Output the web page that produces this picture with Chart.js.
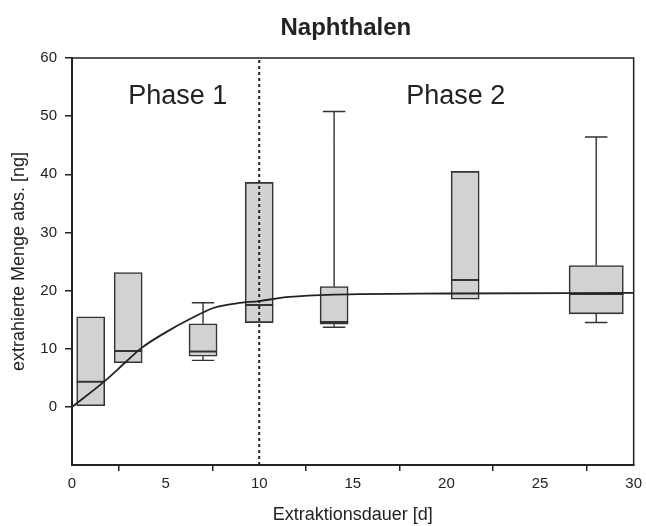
<!DOCTYPE html>
<html>
<head>
<meta charset="utf-8">
<script src="https://cdn.jsdelivr.net/npm/chart.js@4.4.1/dist/chart.umd.min.js"></script>
<style>
html, body { margin: 0; padding: 0; background: #fff; }
#wrap { width: 646px; height: 526px; }
</style>
</head>
<body>
<div id="wrap"><canvas id="naphChart"></canvas></div>
<script>
// Boxen: Extraktionsdauer [d] und Quartile / Median / Whisker [ng]
const days = [1, 3, 7, 10, 14, 21, 28];
const q1 = [0.2, 7.6, 8.7, 14.5, 14.2, 18.5, 16.0];
const q3 = [15.5, 23.1, 14.3, 38.6, 20.7, 40.5, 24.3];
const medians = [4.3, 9.6, 9.5, 17.5, 14.6, 21.8, 19.4];
const whiskerLow = [null, null, 8.0, null, 13.7, null, 14.5];
const whiskerHigh = [null, null, 17.9, null, 50.8, null, 46.4];

// angepasste Kurve
const fitX = [0, 1.7, 2.9, 3.7, 5.05, 6.3, 7.55, 8.8, 10, 11.6, 14, 20, 30];
const fitY = [0, 4.3, 7.8, 10.1, 12.9, 15.1, 17.0, 17.8, 18.2, 18.9, 19.3, 19.5, 19.6];

const phaseBreak = 10;
const phaseLabels = ['Phase 1', 'Phase 2'];
const xTicks = [0, 5, 10, 15, 20, 25, 30];
const yTicks = [0, 10, 20, 30, 40, 50, 60];

// Breiten in Tagen (letzte Box ist breiter gezeichnet)
const BOX_W = 1.5;
const WIDE_W = 2.9;
const CAP_W = 1.2;

const FONT = 'Arial, "Liberation Sans", Helvetica, sans-serif';
const INK = '#222';

function boxWidth(i) {
	return i === days.length - 1 ? WIDE_W : BOX_W;
}

function buildSegments() {
	let med = [];
	let whisk = [];
	days.forEach(function(d, i) {
		let hw = boxWidth(i) / 2;
		med.push({ x: d - hw, y: medians[i] }, { x: d + hw, y: medians[i] }, { x: d, y: null });
		if (whiskerHigh[i] !== null) {
			whisk.push({ x: d, y: q3[i] }, { x: d, y: whiskerHigh[i] }, { x: d, y: null });
			whisk.push({ x: d - CAP_W / 2, y: whiskerHigh[i] }, { x: d + CAP_W / 2, y: whiskerHigh[i] }, { x: d, y: null });
		}
		if (whiskerLow[i] !== null) {
			whisk.push({ x: d, y: q1[i] }, { x: d, y: whiskerLow[i] }, { x: d, y: null });
			whisk.push({ x: d - CAP_W / 2, y: whiskerLow[i] }, { x: d + CAP_W / 2, y: whiskerLow[i] }, { x: d, y: null });
		}
	});
	return { med: med, whisk: whisk };
}

let segs = buildSegments();
let boxData = [];
let wideData = [];
days.forEach(function(d, i) {
	let item = { x: d, y: [q1[i], q3[i]] };
	if (boxWidth(i) === WIDE_W) wideData.push(item); else boxData.push(item);
});

// Rahmen, Titel und Phasen-Beschriftung
const decorPlugin = {
	id: 'decor',
	afterDatasetsDraw(chart) {
		let ctx = chart.ctx;
		let a = chart.chartArea;
		let x = chart.scales.x;
		let y = chart.scales.y;
		ctx.save();
		ctx.strokeStyle = INK;
		ctx.lineWidth = 1.5;
		ctx.beginPath();
		ctx.moveTo(a.left, a.top);
		ctx.lineTo(a.right, a.top);
		ctx.lineTo(a.right, a.bottom);
		ctx.stroke();

		ctx.fillStyle = INK;
		ctx.textAlign = 'center';
		ctx.textBaseline = 'middle';
		ctx.font = '27px ' + FONT;
		ctx.fillText(phaseLabels[0], x.getPixelForValue(5.65), y.getPixelForValue(53.3));
		ctx.fillText(phaseLabels[1], x.getPixelForValue(20.5), y.getPixelForValue(53.3));

		ctx.font = 'bold 24px ' + FONT;
		ctx.fillText('Naphthalen', a.left + (a.right - a.left) / 2 - 7, 28);
		ctx.restore();
	}
};

function addNaphChart() {

	let ctx = document.getElementById('naphChart').getContext('2d');
	let chart = new Chart(ctx, {
		type: 'scatter',
		data: {
			datasets: [{
				type: 'line',
				data: [{ x: phaseBreak, y: -10 }, { x: phaseBreak, y: 60 }],
				borderColor: INK,
				borderWidth: 2,
				borderDash: [3, 3],
				pointRadius: 0,
				order: 1,
			}, {
				type: 'line',
				data: fitX.map(function(v, i) { return { x: v, y: fitY[i] }; }),
				borderColor: INK,
				borderWidth: 1.8,
				pointRadius: 0,
				cubicInterpolationMode: 'monotone',
				order: 2,
			}, {
				type: 'line',
				data: segs.med,
				borderColor: '#333',
				borderWidth: 2,
				pointRadius: 0,
				spanGaps: false,
				order: 3,
			}, {
				type: 'line',
				data: segs.whisk,
				borderColor: '#333',
				borderWidth: 1.4,
				pointRadius: 0,
				spanGaps: false,
				order: 3,
			}, {
				type: 'bar',
				data: boxData,
				backgroundColor: '#d2d2d4',
				borderColor: '#333',
				borderWidth: 1.6,
				borderSkipped: false,
				grouped: false,
				barThickness: 28,
				order: 5,
			}, {
				type: 'bar',
				data: wideData,
				backgroundColor: '#d2d2d4',
				borderColor: '#333',
				borderWidth: 1.6,
				borderSkipped: false,
				grouped: false,
				barThickness: 54,
				order: 5,
			}],
		},
		options: {
			responsive: true,
			maintainAspectRatio: false,
			animation: false,
			layout: {
				padding: { top: 58, right: 10, left: 0, bottom: 0 },
			},
			plugins: {
				legend: { display: false },
				tooltip: { enabled: false },
				title: { display: false },
			},
			scales: {
				x: {
					type: 'linear',
					min: 0,
					max: 30,
					offset: false,
					afterFit: function(s) { s.height = 61; },
					afterBuildTicks: function(s) { s.ticks = xTicks.map(function(v) { return { value: v }; }); },
					grid: { drawOnChartArea: false, drawTicks: true, tickLength: 6, color: INK, lineWidth: 1.5 },
					border: { display: true, color: INK, width: 2 },
					ticks: { color: INK, padding: 4, font: { family: FONT, size: 15 }, maxRotation: 0 },
					title: {
						display: true,
						text: 'Extraktionsdauer [d]',
						color: INK,
						font: { family: FONT, size: 18 },
						padding: { top: 0, bottom: 0 },
					},
				},
				y: {
					type: 'linear',
					min: -10,
					max: 60,
					afterFit: function(s) { s.width = 72; },
					afterBuildTicks: function(s) { s.ticks = yTicks.map(function(v) { return { value: v }; }); },
					grid: { drawOnChartArea: false, drawTicks: true, tickLength: 7, color: INK, lineWidth: 1.5 },
					border: { display: true, color: INK, width: 2 },
					ticks: { color: INK, padding: 8, font: { family: FONT, size: 15 } },
					title: {
						display: true,
						text: 'extrahierte Menge abs. [ng]',
						color: INK,
						font: { family: FONT, size: 18 },
						padding: { top: 8, bottom: 0 },
					},
				},
			},
		},
		plugins: [decorPlugin],
	});

	// Balkenbreite aus der x-Skala ableiten
	let xs = chart.scales.x;
	let unit = xs.getPixelForValue(1) - xs.getPixelForValue(0);
	chart.data.datasets[4].barThickness = BOX_W * unit;
	chart.data.datasets[5].barThickness = WIDE_W * unit;
	chart.update('none');

}

addNaphChart();
</script>
</body>
</html>
